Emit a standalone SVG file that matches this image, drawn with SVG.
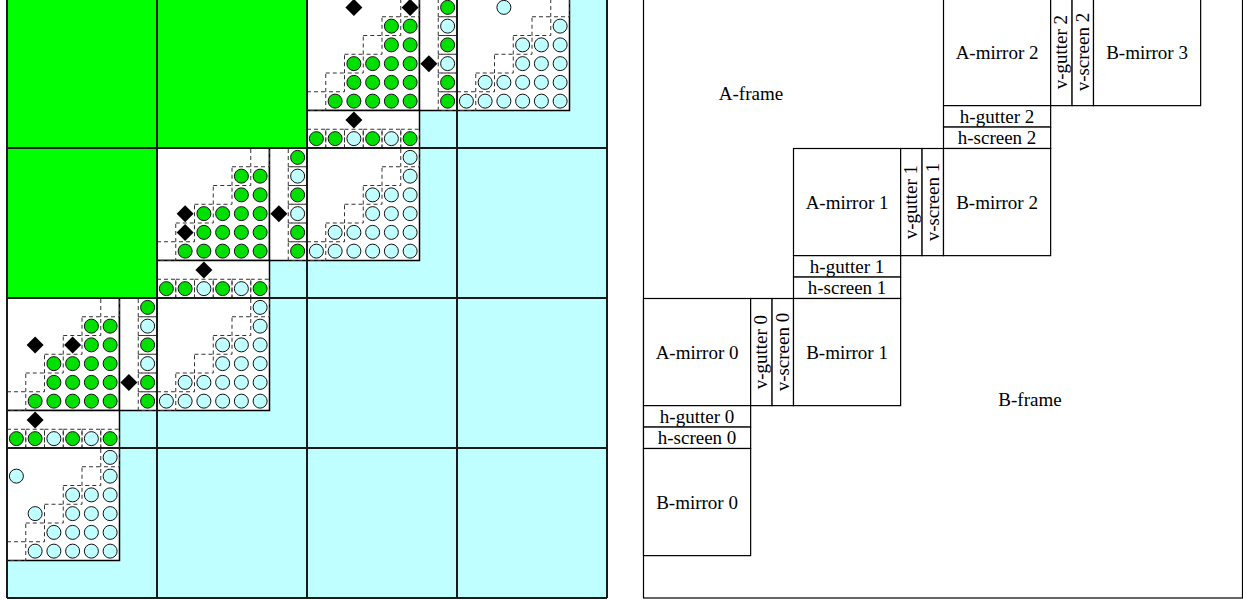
<svg xmlns="http://www.w3.org/2000/svg" width="1243" height="600" viewBox="0 0 1243 600">
<style>
.w{fill:#fff;stroke:#000;stroke-width:1.5}
.dash{fill:none;stroke:#333;stroke-width:1;stroke-dasharray:4 3}
.grid{fill:none;stroke:#1a1a1a;stroke-width:2}
.box{fill:#fff;stroke:#000;stroke-width:1.2}
.lbl{font-family:"Liberation Serif","Times New Roman",serif;font-size:19px;fill:#000;text-anchor:middle}
</style>
<defs>
<circle id="g" r="7" fill="#00e000" stroke="#111" stroke-width="1"/>
<circle id="b" r="7" fill="#c0ffff" stroke="#111" stroke-width="1"/>
<path id="d" d="M0,-8.5L8.5,0L0,8.5L-8.5,0Z" fill="#000"/>
<rect id="x" class="dash" x="-9.375" y="-9.375" width="18.75" height="18.75"/>
<g id="diag">
<use href="#x" x="103.125" y="9.375"/><use href="#x" x="84.375" y="28.125"/><use href="#x" x="65.625" y="46.875"/>
<use href="#x" x="46.875" y="65.625"/><use href="#x" x="28.125" y="84.375"/><use href="#x" x="9.375" y="103.125"/>
</g>
<g id="aInner">
<use href="#diag"/>
<use href="#g" x="84.375" y="28.125"/><use href="#g" x="103.125" y="28.125"/>
<use href="#g" x="84.375" y="46.875"/><use href="#g" x="103.125" y="46.875"/>
<use href="#g" x="46.875" y="65.625"/><use href="#g" x="65.625" y="65.625"/><use href="#g" x="84.375" y="65.625"/><use href="#g" x="103.125" y="65.625"/>
<use href="#g" x="46.875" y="84.375"/><use href="#g" x="65.625" y="84.375"/><use href="#g" x="84.375" y="84.375"/><use href="#g" x="103.125" y="84.375"/>
<use href="#g" x="28.125" y="103.125"/><use href="#g" x="46.875" y="103.125"/><use href="#g" x="65.625" y="103.125"/><use href="#g" x="84.375" y="103.125"/><use href="#g" x="103.125" y="103.125"/>
</g>
<g id="vscreen">
<use href="#x" x="140.625" y="9.375"/><use href="#x" x="140.625" y="28.125"/><use href="#x" x="140.625" y="46.875"/>
<use href="#x" x="140.625" y="65.625"/><use href="#x" x="140.625" y="84.375"/><use href="#x" x="140.625" y="103.125"/>
<use href="#g" x="140.625" y="9.375"/><use href="#b" x="140.625" y="28.125"/><use href="#g" x="140.625" y="46.875"/>
<use href="#b" x="140.625" y="65.625"/><use href="#g" x="140.625" y="84.375"/><use href="#g" x="140.625" y="103.125"/>
</g>
<g id="hscreen">
<use href="#x" x="9.375" y="140.625"/><use href="#x" x="28.125" y="140.625"/><use href="#x" x="46.875" y="140.625"/>
<use href="#x" x="65.625" y="140.625"/><use href="#x" x="84.375" y="140.625"/><use href="#x" x="103.125" y="140.625"/>
<use href="#g" x="9.375" y="140.625"/><use href="#g" x="28.125" y="140.625"/><use href="#b" x="46.875" y="140.625"/>
<use href="#g" x="65.625" y="140.625"/><use href="#b" x="84.375" y="140.625"/><use href="#g" x="103.125" y="140.625"/>
</g>
<g id="aBase">
<rect class="w" x="0" y="0" width="112.5" height="112.5"/>
<rect class="w" x="112.5" y="0" width="37.5" height="112.5"/>
<rect class="w" x="0" y="112.5" width="112.5" height="37.5"/>
<use href="#aInner"/><use href="#vscreen"/><use href="#hscreen"/>
</g>
<g id="bBase">
<rect class="w" x="0" y="0" width="112.5" height="112.5"/>
<use href="#diag"/>
<use href="#b" x="103.125" y="28.125"/>
<use href="#b" x="65.625" y="46.875"/><use href="#b" x="84.375" y="46.875"/><use href="#b" x="103.125" y="46.875"/>
<use href="#b" x="65.625" y="65.625"/><use href="#b" x="84.375" y="65.625"/><use href="#b" x="103.125" y="65.625"/>
<use href="#b" x="28.125" y="84.375"/><use href="#b" x="46.875" y="84.375"/><use href="#b" x="65.625" y="84.375"/><use href="#b" x="84.375" y="84.375"/><use href="#b" x="103.125" y="84.375"/>
<use href="#b" x="9.375" y="103.125"/><use href="#b" x="28.125" y="103.125"/><use href="#b" x="46.875" y="103.125"/><use href="#b" x="65.625" y="103.125"/><use href="#b" x="84.375" y="103.125"/><use href="#b" x="103.125" y="103.125"/>
</g>
</defs>

<g id="left-panel">
<rect x="7" y="-2" width="600" height="600" fill="#c0ffff"/>
<path d="M7,-2H307V148H157V298H7Z" fill="#00ff00"/>

<g id="a-mirror-2-cell" transform="translate(307,-2)">
<use href="#aBase"/>
<use href="#d" x="46.875" y="9.375"/><use href="#d" x="103.125" y="9.375"/>
<use href="#d" x="121.875" y="65.625"/><use href="#d" x="46.875" y="121.875"/>
</g>
<g id="a-mirror-1-cell" transform="translate(157,148)">
<use href="#aBase"/>
<use href="#d" x="28.125" y="65.625"/><use href="#d" x="28.125" y="84.375"/>
<use href="#d" x="121.875" y="65.625"/><use href="#d" x="46.875" y="121.875"/>
</g>
<g id="a-mirror-0-cell" transform="translate(7,298)">
<use href="#aBase"/>
<use href="#d" x="28.125" y="46.875"/><use href="#d" x="65.625" y="46.875"/>
<use href="#d" x="121.875" y="84.375"/><use href="#d" x="28.125" y="121.875"/>
</g>
<g id="b-mirror-3-cell" transform="translate(457,-2)">
<use href="#bBase"/>
<use href="#b" x="46.875" y="9.375"/>
</g>
<g id="b-mirror-2-cell" transform="translate(307,148)">
<use href="#bBase"/>
<use href="#b" x="103.125" y="9.375"/>
</g>
<g id="b-mirror-1-cell" transform="translate(157,298)">
<use href="#bBase"/>
<use href="#b" x="103.125" y="9.375"/>
</g>
<g id="b-mirror-0-cell" transform="translate(7,448)">
<rect class="w" x="0" y="0" width="112.5" height="112.5"/>
<use href="#diag"/>
<use href="#b" x="103.125" y="9.375"/>
<use href="#b" x="9.375" y="28.125"/><use href="#b" x="103.125" y="28.125"/>
<use href="#b" x="65.625" y="46.875"/><use href="#b" x="84.375" y="46.875"/><use href="#b" x="103.125" y="46.875"/>
<use href="#b" x="28.125" y="65.625"/><use href="#b" x="65.625" y="65.625"/><use href="#b" x="84.375" y="65.625"/><use href="#b" x="103.125" y="65.625"/>
<use href="#b" x="46.875" y="84.375"/><use href="#b" x="65.625" y="84.375"/><use href="#b" x="84.375" y="84.375"/><use href="#b" x="103.125" y="84.375"/>
<use href="#b" x="28.125" y="103.125"/><use href="#b" x="46.875" y="103.125"/><use href="#b" x="65.625" y="103.125"/><use href="#b" x="84.375" y="103.125"/><use href="#b" x="103.125" y="103.125"/>
</g>

<path class="grid" d="M7,-2V598M157,-2V598M307,-2V598M457,-2V598M607,-2V598M7,148H607M7,298H607M7,448H607M7,598H607"/>
</g>

<g id="right-panel">
<rect id="frame" x="643.5" y="-1.5" width="599" height="599.5" fill="#fff" stroke="#000" stroke-width="1.2"/>
<text class="lbl" x="751" y="100">A-frame</text>
<text class="lbl" x="1030" y="406">B-frame</text>

<g id="a-mirror-2"><rect class="box" x="943.5" y="-1.5" width="107.14" height="107.14"/><text class="lbl" x="997.07" y="58.5">A-mirror 2</text></g>
<g id="v-gutter-2"><rect class="box" x="1050.64" y="-1.5" width="21.43" height="107.14"/><text class="lbl" transform="translate(1061.36,52.07) rotate(-90)" y="6">v-gutter 2</text></g>
<g id="v-screen-2"><rect class="box" x="1072.07" y="-1.5" width="21.43" height="107.14"/><text class="lbl" transform="translate(1082.79,52.07) rotate(-90)" y="6">v-screen 2</text></g>
<g id="b-mirror-3"><rect class="box" x="1093.5" y="-1.5" width="107.14" height="107.14"/><text class="lbl" x="1147.07" y="58.5">B-mirror 3</text></g>
<g id="h-gutter-2"><rect class="box" x="943.5" y="105.64" width="107.14" height="21.43"/><text class="lbl" x="997.07" y="122.5">h-gutter 2</text></g>
<g id="h-screen-2"><rect class="box" x="943.5" y="127.07" width="107.14" height="21.43"/><text class="lbl" x="997.07" y="144">h-screen 2</text></g>

<g id="a-mirror-1"><rect class="box" x="793.5" y="148.5" width="107.14" height="107.14"/><text class="lbl" x="847.07" y="208.5">A-mirror 1</text></g>
<g id="v-gutter-1"><rect class="box" x="900.64" y="148.5" width="21.43" height="107.14"/><text class="lbl" transform="translate(911.36,202.07) rotate(-90)" y="6">v-gutter 1</text></g>
<g id="v-screen-1"><rect class="box" x="922.07" y="148.5" width="21.43" height="107.14"/><text class="lbl" transform="translate(932.79,202.07) rotate(-90)" y="6">v-screen 1</text></g>
<g id="b-mirror-2"><rect class="box" x="943.5" y="148.5" width="107.14" height="107.14"/><text class="lbl" x="997.07" y="208.5">B-mirror 2</text></g>
<g id="h-gutter-1"><rect class="box" x="793.5" y="255.64" width="107.14" height="21.43"/><text class="lbl" x="847.07" y="272.5">h-gutter 1</text></g>
<g id="h-screen-1"><rect class="box" x="793.5" y="277.07" width="107.14" height="21.43"/><text class="lbl" x="847.07" y="294">h-screen 1</text></g>

<g id="a-mirror-0"><rect class="box" x="643.5" y="298.5" width="107.14" height="107.14"/><text class="lbl" x="697.07" y="358.5">A-mirror 0</text></g>
<g id="v-gutter-0"><rect class="box" x="750.64" y="298.5" width="21.43" height="107.14"/><text class="lbl" transform="translate(761.36,352.07) rotate(-90)" y="6">v-gutter 0</text></g>
<g id="v-screen-0"><rect class="box" x="772.07" y="298.5" width="21.43" height="107.14"/><text class="lbl" transform="translate(782.79,352.07) rotate(-90)" y="6">v-screen 0</text></g>
<g id="b-mirror-1"><rect class="box" x="793.5" y="298.5" width="107.14" height="107.14"/><text class="lbl" x="847.07" y="358.5">B-mirror 1</text></g>
<g id="h-gutter-0"><rect class="box" x="643.5" y="405.64" width="107.14" height="21.43"/><text class="lbl" x="697.07" y="422.5">h-gutter 0</text></g>
<g id="h-screen-0"><rect class="box" x="643.5" y="427.07" width="107.14" height="21.43"/><text class="lbl" x="697.07" y="444">h-screen 0</text></g>
<g id="b-mirror-0"><rect class="box" x="643.5" y="448.5" width="107.14" height="107.14"/><text class="lbl" x="697.07" y="508.5">B-mirror 0</text></g>
</g>
</svg>
